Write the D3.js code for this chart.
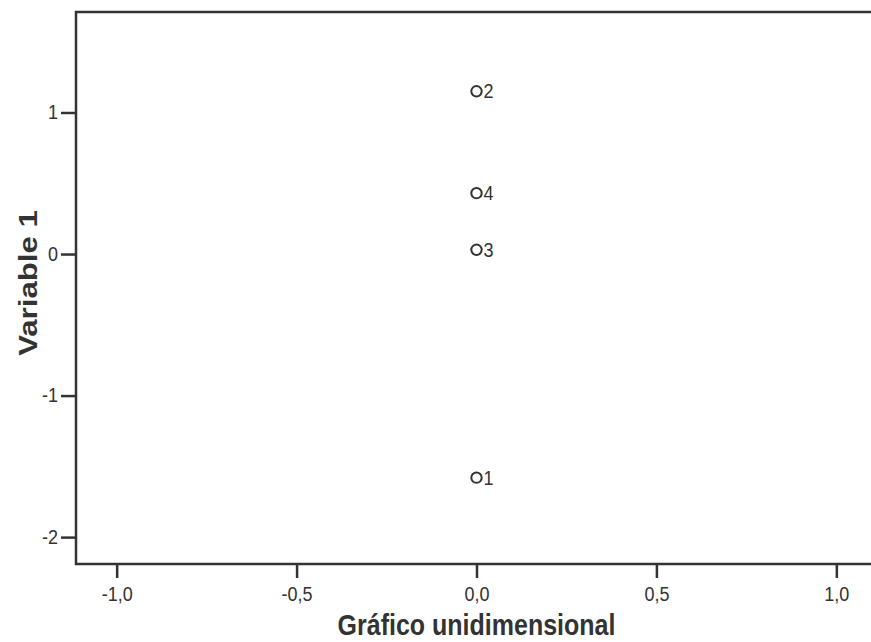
<!DOCTYPE html>
<html>
<head>
<meta charset="utf-8">
<script src="https://cdn.jsdelivr.net/npm/d3@7"></script>
<style>
	body { margin: 0; background: #fff; }
	svg { font-family: "Liberation Sans", Arial, sans-serif; }
</style>
</head>
<body>
<svg width="871" height="642"></svg>
<script>
const caseLabels = ['1', '2', '3', '4'];
const caseX = [0, 0, 0, 0];
const caseY = [-1.58, 1.15, 0.03, 0.43];
const xTicks = [-1, -0.5, 0, 0.5, 1];
const yTicks = [-2, -1, 0, 1];
const xTitle = 'Gráfico unidimensional';
const yTitle = 'Variable 1';

const inkColour = '#333';
// the scanned chart is a bit taller than wide, so stretch text vertically
const stretch = 1.1;

let svg = d3.select("svg");
const plotLeft = 76, plotTop = 12, plotBottom = 564, plotRight = 877;

let x = d3.scaleLinear().domain([-1.113, 1.113]).range([plotLeft, plotRight]);
let y = d3.scaleLinear().domain([-2.19, 1.71]).range([plotBottom, plotTop]);

let fmt = function(d) { return d3.format(".1f")(d).replace('.', ',').replace('−', '-'); };

// frame
svg.append("rect")
	.attr("x", plotLeft).attr("y", plotTop)
	.attr("width", plotRight - plotLeft).attr("height", plotBottom - plotTop)
	.attr("fill", "none")
	.attr("stroke", inkColour)
	.attr("stroke-width", 2.5);

let xAxis = svg.append("g")
	.attr("transform", "translate(0," + plotBottom + ")")
	.call(d3.axisBottom(x).tickValues(xTicks).tickFormat(fmt).tickSize(14).tickPadding(9));
let yAxis = svg.append("g")
	.attr("transform", "translate(" + plotLeft + ",0)")
	.call(d3.axisLeft(y).tickValues(yTicks).tickFormat(function(d) { return String(d); }).tickSize(15).tickPadding(3));

[xAxis, yAxis].forEach(function(a) {
	a.select(".domain").remove();
	a.selectAll("line").attr("stroke", inkColour).attr("stroke-width", 2.5);
	a.selectAll("text")
		.attr("fill", inkColour)
		.style("font-size", "18px")
		.style("font-family", '"Liberation Sans", Arial, sans-serif');
});
xAxis.selectAll("text").each(function() {
	let t = d3.select(this);
	let ty = +t.attr("y");
	t.attr("y", 0).attr("transform", "translate(0," + ty + ") scale(1," + stretch + ")");
});
yAxis.selectAll("text").attr("transform", "scale(1," + stretch + ")");

// points
let pts = caseLabels.map(function(d, i) { return {label: d, x: caseX[i], y: caseY[i]}; });

svg.append("g").selectAll("circle")
	.data(pts)
	.enter().append("circle")
		.attr("cx", function(d) { return x(d.x); })
		.attr("cy", function(d) { return y(d.y); })
		.attr("r", 5.2)
		.attr("fill", "none")
		.attr("stroke", inkColour)
		.attr("stroke-width", 2);

svg.append("g").selectAll("text")
	.data(pts)
	.enter().append("text")
		.attr("transform", function(d) {
			return "translate(" + (x(d.x) + 7) + "," + y(d.y) + ") scale(1," + stretch + ")";
		})
		.attr("dy", "0.36em")
		.attr("fill", inkColour)
		.style("font-size", "18px")
		.text(function(d) { return d.label; });

// titles
svg.append("text")
	.attr("transform", "translate(" + x(0) + ",635) scale(1,1.2)")
	.attr("text-anchor", "middle")
	.attr("fill", inkColour)
	.style("font-size", "25px")
	.style("font-weight", "bold")
	.text(xTitle);

svg.append("text")
	.attr("transform", "translate(37,283) rotate(-90) scale(1.2,1)")
	.attr("text-anchor", "middle")
	.attr("fill", inkColour)
	.style("font-size", "26px")
	.style("font-weight", "bold")
	.text(yTitle);
</script>
</body>
</html>
